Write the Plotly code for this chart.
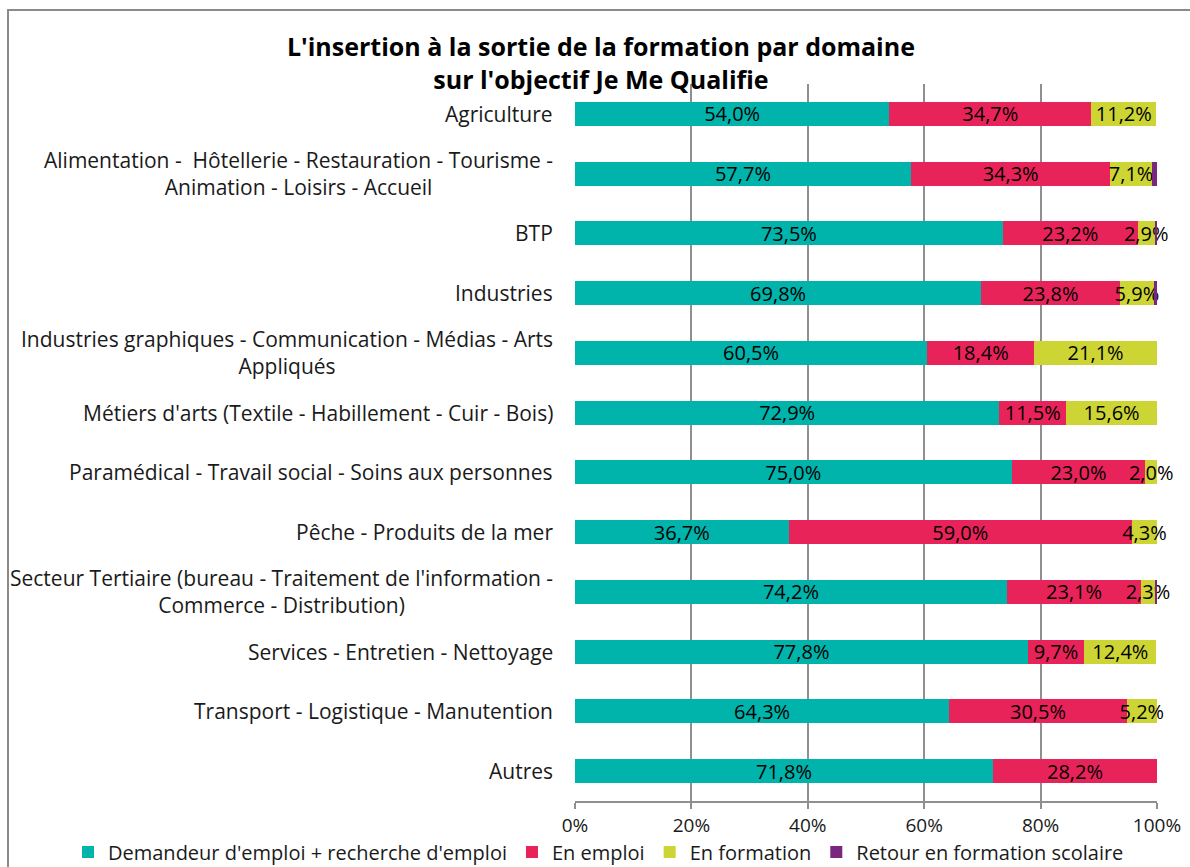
import plotly.graph_objects as go

categories = [
    "Agriculture",
    "Alimentation -  Hôtellerie - Restauration - Tourisme -<br>Animation - Loisirs - Accueil",
    "BTP",
    "Industries",
    "Industries graphiques - Communication - Médias - Arts<br>Appliqués",
    "Métiers d'arts (Textile - Habillement - Cuir - Bois)",
    "Paramédical - Travail social - Soins aux personnes",
    "Pêche - Produits de la mer",
    "Secteur Tertiaire (bureau - Traitement de l'information -<br>Commerce - Distribution)",
    "Services - Entretien - Nettoyage",
    "Transport - Logistique - Manutention",
    "Autres",
]

demandeur = [54.0, 57.7, 73.5, 69.8, 60.5, 72.9, 75.0, 36.7, 74.2, 77.8, 64.3, 71.8]
en_emploi = [34.7, 34.3, 23.2, 23.8, 18.4, 11.5, 23.0, 59.0, 23.1, 9.7, 30.5, 28.2]
en_formation = [11.2, 7.1, 2.9, 5.9, 21.1, 15.6, 2.0, 4.3, 2.3, 12.4, 5.2, 0.0]
retour_scolaire = [0.0, 0.9, 0.4, 0.5, 0.0, 0.0, 0.0, 0.0, 0.4, 0.0, 0.0, 0.0]

series = [
    ("Demandeur d'emploi + recherche d'emploi", demandeur, "#00B4AC", True),
    ("En emploi", en_emploi, "#E8235A", True),
    ("En formation", en_formation, "#CDD535", True),
    ("Retour en formation scolaire", retour_scolaire, "#7A2680", False),
]

FONT = "Open Sans"

def fmt(v):
    return (f"{v:.1f}%").replace(".", ",") if v > 0 else ""

fig = go.Figure()
for name, vals, color, show_text in series:
    fig.add_trace(go.Bar(
        y=categories,
        x=vals,
        name=name,
        orientation="h",
        marker=dict(color=color, line=dict(width=0)),
        text=[fmt(v) for v in vals] if show_text else None,
        textposition="inside" if show_text else "none",
        insidetextanchor="middle",
        textangle=0,
        textfont=dict(color="black", size=20, family=FONT),
        insidetextfont=dict(color="black", size=20, family=FONT),
        constraintext="none",
        cliponaxis=False,
        hoverinfo="x+name",
    ))

annotations = []
for c in categories:
    annotations.append(dict(
        x=0, xref="paper", y=c, yref="y",
        text=c, showarrow=False, xanchor="right", yanchor="middle",
        align="center", xshift=-20,
        font=dict(size=21, family=FONT, color="#1a1a1a"),
    ))

PLOT_L, PLOT_R, PLOT_T, PLOT_B = 575, 1157, 84, 801
PW, PH = PLOT_R - PLOT_L, PLOT_B - PLOT_T

fig.update_layout(
    width=1190, height=867,
    barmode="stack",
    bargap=0.6,
    plot_bgcolor="white",
    paper_bgcolor="white",
    margin=dict(l=PLOT_L, r=1190 - PLOT_R, t=PLOT_T, b=867 - PLOT_B, autoexpand=False),
    uniformtext=dict(minsize=20, mode="show"),
    title=dict(
        text="<b>L'insertion à la sortie de la formation par domaine<br>sur l'objectif Je Me Qualifie</b>",
        x=0.505, xref="container", xanchor="center",
        y=1 - 56 / 867, yref="container", yanchor="middle",
        font=dict(size=25, family=FONT, color="black"),
    ),
    xaxis=dict(
        range=[0, 100], dtick=20, ticksuffix="%",
        showgrid=True, gridcolor="#8f8f8f", gridwidth=2,
        showline=True, linecolor="#8f8f8f", linewidth=2,
        ticks="outside", ticklen=6, tickcolor="#8f8f8f", tickwidth=2,
        ticklabelstandoff=0,
        zeroline=False,
        tickfont=dict(size=19, family=FONT, color="#1a1a1a"),
    ),
    yaxis=dict(
        autorange="reversed", showticklabels=False, showgrid=False,
        showline=False, ticks="",
    ),
    legend=dict(
        orientation="h",
        x=(68 - PLOT_L) / PW, xanchor="left",
        y=(PLOT_B - 852) / PH, yanchor="middle",
        font=dict(size=20, family=FONT, color="#1a1a1a"),
        traceorder="normal",
        bgcolor="rgba(0,0,0,0)",
    ),
    annotations=annotations,
    shapes=[dict(
        type="rect", xref="paper", yref="paper",
        x0=(8 - PLOT_L) / PW, x1=(1195 - PLOT_L) / PW,
        y0=(PLOT_B - 875) / PH, y1=(PLOT_B - 10) / PH,
        line=dict(color="#8a8a8a", width=2), fillcolor="rgba(0,0,0,0)", layer="below",
    )],
)

fig.write_html(
    "out.html",
    config={"displayModeBar": False},
    post_script="document.body.style.margin='0';document.body.style.overflow='hidden';",
)
